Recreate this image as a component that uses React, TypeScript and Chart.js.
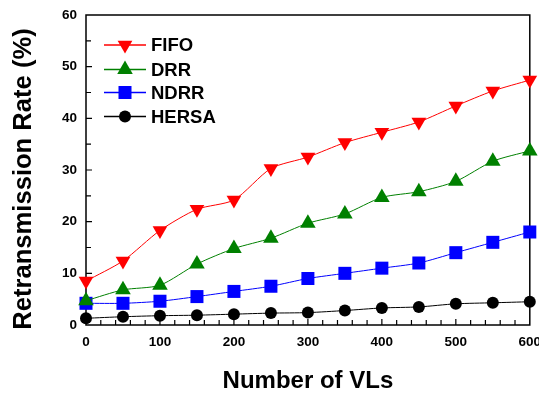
import React, { useEffect, useRef } from "react";
import { Chart, registerables } from "chart.js";

Chart.register(...registerables);

const xValues = [0, 50, 100, 150, 200, 250, 300, 350, 400, 450, 500, 550, 600];
const fifo = [8.5, 12.4, 18.3, 22.4, 24.2, 30.3, 32.5, 35.3, 37.3, 39.3, 42.4, 45.3, 47.4];
const drr = [4.7, 6.8, 7.7, 11.8, 14.8, 16.8, 19.7, 21.5, 24.7, 25.8, 27.8, 31.7, 33.7];
const ndrr = [4.2, 4.2, 4.6, 5.5, 6.5, 7.5, 9.0, 10.0, 11.0, 12.0, 14.0, 16.0, 18.0];
const hersa = [1.3, 1.6, 1.8, 1.9, 2.1, 2.3, 2.4, 2.8, 3.3, 3.5, 4.1, 4.3, 4.5];
const seriesNames = ["FIFO", "DRR", "NDRR", "HERSA"];
const xTitle = "Number of VLs";
const yTitle = "Retransmission Rate (%)";

const FONT = "'Liberation Sans', Arial, sans-serif";

type Marker = { shape: string; color: string; r: number };
const markers: Marker[] = [
  { shape: "triDown", color: "#ff0000", r: 8.5 },
  { shape: "triUp", color: "#008000", r: 9 },
  { shape: "rect", color: "#0000ff", r: 9.2 },
  { shape: "circle", color: "#000000", r: 6 },
];

function drawMarker(ctx: CanvasRenderingContext2D, m: Marker, x: number, y: number) {
  ctx.save();
  ctx.fillStyle = m.color;
  ctx.beginPath();
  const r = m.r;
  if (m.shape === "circle") {
    ctx.arc(x, y, r, 0, Math.PI * 2);
  } else if (m.shape === "rect") {
    const s = r * Math.SQRT1_2;
    ctx.rect(x - s, y - s, 2 * s, 2 * s);
  } else if (m.shape === "triUp") {
    const h = r * Math.sin(Math.PI / 3);
    ctx.moveTo(x, y - r);
    ctx.lineTo(x + h, y + r / 2);
    ctx.lineTo(x - h, y + r / 2);
    ctx.closePath();
  } else {
    const h = r * Math.sin(Math.PI / 3);
    ctx.moveTo(x, y + r);
    ctx.lineTo(x + h, y - r / 2);
    ctx.lineTo(x - h, y - r / 2);
    ctx.closePath();
  }
  ctx.fill();
  ctx.restore();
}

const framePlugin = {
  id: "frameTicks",
  beforeDatasetsDraw(chart: any) {
    const { ctx, chartArea } = chart;
    const { left, right, top, bottom } = chartArea;
    const xs = chart.scales.x;
    const ys = chart.scales.y;
    ctx.save();
    ctx.strokeStyle = "#000";
    ctx.lineWidth = 1.5;
    ctx.strokeRect(left, top, right - left, bottom - top);
    ctx.lineWidth = 1.2;
    ctx.beginPath();
    for (let v = 20; v < 600; v += 20) {
      const px = xs.getPixelForValue(v);
      const len = v % 100 === 0 ? 6 : 5;
      ctx.moveTo(px, bottom);
      ctx.lineTo(px, bottom - len);
    }
    for (let v = 5; v < 60; v += 5) {
      const py = ys.getPixelForValue(v);
      const len = v % 10 === 0 ? 6 : 5;
      ctx.moveTo(left, py);
      ctx.lineTo(left + len, py);
    }
    ctx.stroke();
    // y axis title
    ctx.translate(24, 179);
    ctx.rotate(-Math.PI / 2);
    ctx.fillStyle = "#000";
    ctx.font = `bold 25.6px ${FONT}`;
    ctx.textAlign = "center";
    ctx.textBaseline = "middle";
    ctx.fillText(yTitle, 0, 0);
    ctx.restore();
  },
  afterDraw(chart: any) {
    const { ctx } = chart;
    const rows = [45, 69.5, 92.5, 116.5];
    ctx.save();
    chart.data.datasets.forEach((ds: any, i: number) => {
      const y = rows[i];
      ctx.strokeStyle = markers[i].color;
      ctx.lineWidth = 1.5;
      ctx.beginPath();
      ctx.moveTo(104, y);
      ctx.lineTo(146, y);
      ctx.stroke();
      drawMarker(ctx, markers[i], 125, y);
      ctx.fillStyle = "#000";
      ctx.font = `bold 18.5px ${FONT}`;
      ctx.textAlign = "left";
      ctx.textBaseline = "middle";
      ctx.fillText(ds.label, 151, y + 1);
    });
    ctx.restore();
  },
};

const pointStyleFor = (m: Marker) =>
  m.shape === "circle" ? "circle" : m.shape === "rect" ? "rect" : "triangle";

export default function App() {
  const ref = useRef<HTMLCanvasElement>(null);
  useEffect(() => {
    const allSeries = [fifo, drr, ndrr, hersa];
    const chart = new Chart(ref.current!, {
      type: "line",
      data: {
        datasets: allSeries.map((vals, i) => ({
          label: seriesNames[i],
          data: xValues.map((x, j) => ({ x, y: vals[j] })),
          borderColor: markers[i].color,
          backgroundColor: markers[i].color,
          borderWidth: 1,
          pointStyle: pointStyleFor(markers[i]),
          pointRadius: markers[i].r,
          pointRotation: markers[i].shape === "triDown" ? 180 : 0,
          pointBorderWidth: 0,
          pointBackgroundColor: markers[i].color,
          tension: 0.25,
          clip: false as any,
        })),
      },
      options: {
        animation: false,
        responsive: true,
        maintainAspectRatio: false,
        layout: { padding: { top: 15, right: 9, left: 0, bottom: 0 } },
        plugins: { legend: { display: false }, tooltip: { enabled: false } },
        scales: {
          x: {
            type: "linear",
            min: 0,
            max: 600,
            grid: { display: false, drawTicks: false },
            border: { display: false },
            ticks: {
              stepSize: 100,
              padding: 9,
              color: "#000",
              font: { family: FONT, size: 13.5, weight: "bold" },
            },
            title: {
              display: true,
              text: xTitle,
              color: "#000",
              font: { family: FONT, size: 24, weight: "bold", lineHeight: 1 },
              padding: { top: 3.5, bottom: 3.5 },
            },
            afterFit: (s: any) => {
              s.height = 72;
              s.paddingLeft = 0;
              s.paddingRight = 0;
            },
          },
          y: {
            type: "linear",
            min: 0,
            max: 60,
            grid: { display: false, drawTicks: false },
            border: { display: false },
            ticks: {
              stepSize: 10,
              padding: 9,
              color: "#000",
              font: { family: FONT, size: 13.5, weight: "bold" },
            },
            title: { display: false },
            afterFit: (s: any) => {
              s.width = 86;
              s.paddingTop = 0;
              s.paddingBottom = 0;
            },
          },
        },
      },
      plugins: [framePlugin],
    } as any);
    return () => chart.destroy();
  }, []);
  return (
    <div style={{ position: "fixed", left: 0, top: 0, width: 539, height: 397, background: "#fff" }}>
      <canvas ref={ref} />
    </div>
  );
}
